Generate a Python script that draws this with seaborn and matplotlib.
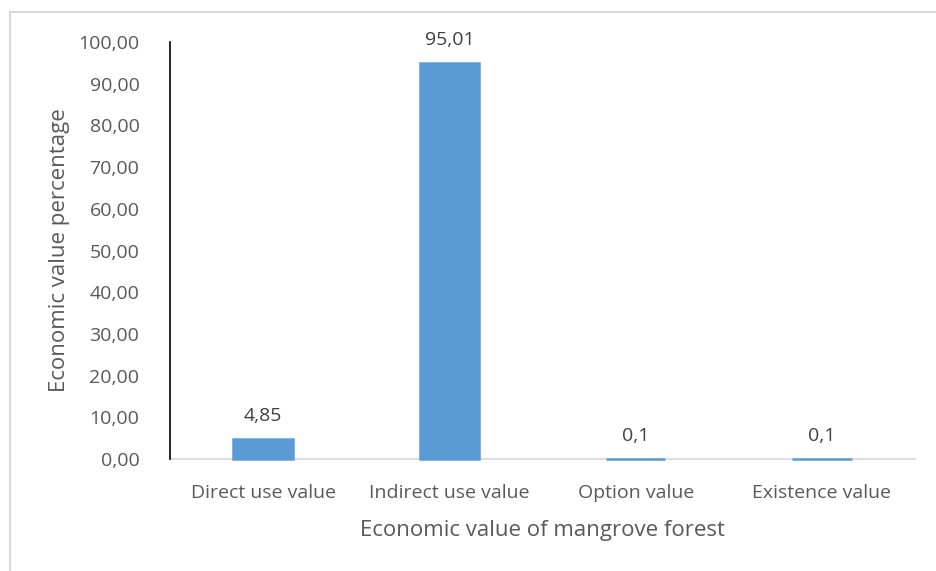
import matplotlib
matplotlib.use('Agg')
import matplotlib.pyplot as plt
import seaborn as sns
import pandas as pd
from matplotlib.lines import Line2D

categories = ['Direct use value', 'Indirect use value', 'Option value', 'Existence value']
values = [4.85, 95.01, 0.1, 0.1]
value_labels = ['4,85', '95,01', '0,1', '0,1']
y_ticks = [0, 10, 20, 30, 40, 50, 60, 70, 80, 90, 100]

df = pd.DataFrame({'category': categories, 'value': values})

sns.set_style('white')
plt.rcParams['font.family'] = ['Open Sans', 'DejaVu Sans']

fig = plt.figure(figsize=(9.36, 5.71), dpi=100)
ax = fig.add_axes([0.1816, 0.196, 0.7960, 0.7304])

sns.barplot(data=df, x='category', y='value', color='#5B9BD5', saturation=1,
            width=0.32, ax=ax, edgecolor='#5B9BD5', linewidth=1.8)
for p in ax.patches:
    p.set_clip_on(False)
    p.set_zorder(3)

ax.set_ylim(0, 100)
ax.set_yticks(y_ticks)
ax.set_yticklabels([f'{t:.2f}'.replace('.', ',') for t in y_ticks])
ax.set_xlim(-0.5, len(categories) - 0.5)

for i, (v, lab) in enumerate(zip(values, value_labels)):
    ax.text(i, v + 3.3, lab, ha='center', va='bottom', fontsize=14, color='#404040')

for s in ['top', 'right']:
    ax.spines[s].set_visible(False)
ax.spines['left'].set_color('#000000')
ax.spines['left'].set_linewidth(1.2)
ax.spines['bottom'].set_color('#D9D9D9')
ax.spines['bottom'].set_linewidth(1.2)
ax.spines['bottom'].set_zorder(1)

ax.tick_params(axis='both', length=0, labelsize=14, labelcolor='#595959')
ax.tick_params(axis='y', pad=22)
ax.tick_params(axis='x', pad=18)

ax.set_xlabel('Economic value of mangrove forest', fontsize=16, color='#595959', labelpad=13)
ax.set_ylabel('Economic value percentage', fontsize=16, color='#595959', labelpad=6)

# outer chart border (only top and left visible in the reference crop)
fig.add_artist(Line2D([10 / 936, 1], [1 - 12 / 571, 1 - 12 / 571], transform=fig.transFigure,
                      color='#D9D9D9', linewidth=1.5))
fig.add_artist(Line2D([10 / 936, 10 / 936], [0, 1 - 12 / 571], transform=fig.transFigure,
                      color='#D9D9D9', linewidth=1.5))

fig.savefig('out.png', dpi=100)
